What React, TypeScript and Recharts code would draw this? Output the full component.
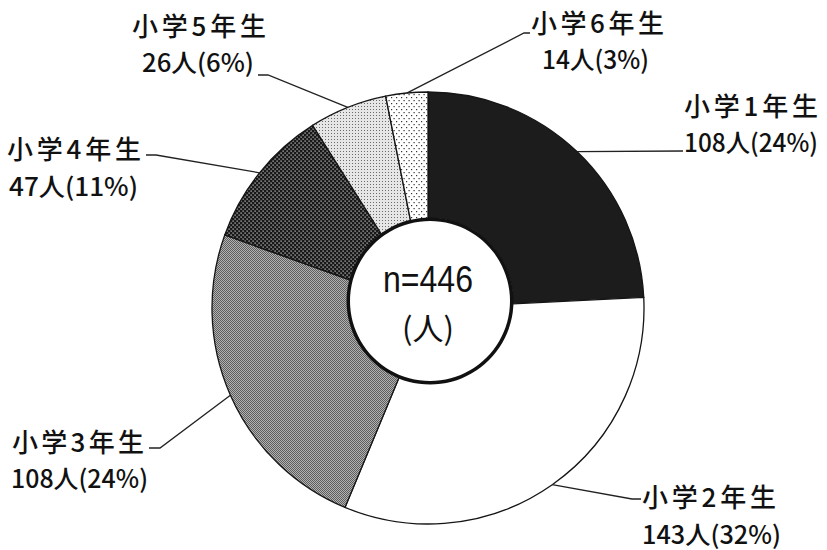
import React from 'react';
import { PieChart, Pie, Cell } from 'recharts';

// ---- data ----
const grades = ['小学1年生', '小学2年生', '小学3年生', '小学4年生', '小学5年生', '小学6年生'];
const counts = [108, 143, 108, 47, 26, 14];
const percents = [24, 32, 24, 11, 6, 3];
const total = 446;
const centerLabel = 'n=446';
const centerUnit = '(人)';

// ---- styles / layout (kept separate from data) ----
const fills = ['#1c1c1c', '#ffffff', 'url(#pGray)', 'url(#pDark)', 'url(#pLight)', 'url(#pSparse)'];

type Layout = { path: number[][]; l1: number[]; l2: number[]; w1: number; w2: number };
const labelLayout: Layout[] = [
  { path: [[683, 151]], l1: [684, 104], l2: [684, 141], w1: 134, w2: 134 },
  { path: [[632, 499], [641, 499]], l1: [642, 495], l2: [642, 533], w1: 134, w2: 139 },
  { path: [[160, 448], [149, 448]], l1: [12, 440], l2: [11, 477], w1: 132, w2: 137 },
  { path: [[156, 155], [146, 155]], l1: [7, 147], l2: [9, 185], w1: 134, w2: 129 },
  { path: [[268, 75], [258, 75]], l1: [132, 24], l2: [142, 61], w1: 134, w2: 112 },
  { path: [[524, 33], [530, 33]], l1: [531, 21], l2: [542, 58], w1: 133, w2: 107 },
];

const data = grades.map((g, i) => ({ name: g, value: counts[i], pct: percents[i] }));
const hole = [{ name: 'total', value: total }];

const JP = "'Noto Sans CJK JP', 'Noto Sans', sans-serif";
const RAD = Math.PI / 180;
const INK = '#111111';

const renderLabel = (props: any) => {
  const { cx, cy, midAngle, outerRadius, index } = props;
  const sx = cx + outerRadius * Math.cos(-midAngle * RAD);
  const sy = cy + outerRadius * Math.sin(-midAngle * RAD);
  const lay = labelLayout[index];
  const pts = [[sx, sy], ...lay.path].map((p) => p.join(',')).join(' ');
  return (
    <g key={`lbl-${index}`}>
      <polyline points={pts} fill="none" stroke="#222" strokeWidth={1.3} />
      <text
        x={lay.l1[0]}
        y={lay.l1[1]}
        dominantBaseline="central"
        textLength={lay.w1}
        lengthAdjust="spacing"
        fontFamily={JP}
        fontSize={26}
        fontWeight={500}
        fill={INK}
      >
        {grades[index]}
      </text>
      <text
        x={lay.l2[0]}
        y={lay.l2[1]}
        dominantBaseline="central"
        textLength={lay.w2}
        lengthAdjust="spacingAndGlyphs"
        fontFamily={JP}
        fontSize={25}
        fontWeight={500}
        fill={INK}
      >
        {`${counts[index]}人(${percents[index]}%)`}
      </text>
    </g>
  );
};

const renderCenter = (props: any) => {
  const { cx, cy } = props;
  return (
    <g key="center">
      <text
        x={cx - 2}
        y={cy - 9}
        textAnchor="middle"
        textLength={90}
        lengthAdjust="spacingAndGlyphs"
        fontFamily="'Liberation Sans', Arial, sans-serif"
        fontSize={36}
        fill={INK}
      >
        {centerLabel}
      </text>
      <text
        x={cx - 2}
        y={cy + 25}
        textAnchor="middle"
        dominantBaseline="central"
        fontFamily={JP}
        fontSize={31}
        fill={INK}
      >
        {centerUnit}
      </text>
    </g>
  );
};

export default function App() {
  return (
    <div style={{ position: 'absolute', left: 0, top: 0, width: 827, height: 550, background: '#fff' }}>
      <PieChart width={827} height={550} margin={{ top: 0, right: 0, bottom: 0, left: 0 }}>
        <defs>
          <pattern id="pGray" width="2" height="2" patternUnits="userSpaceOnUse">
            <rect width="2" height="2" fill="#b2b2b2" />
            <rect x="0" y="0" width="1" height="1" fill="#5e5e5e" />
            <rect x="1" y="1" width="1" height="1" fill="#5e5e5e" />
          </pattern>
          <pattern id="pDark" width="4" height="4" patternUnits="userSpaceOnUse">
            <rect width="4" height="4" fill="#181818" />
            <rect x="0.5" y="0.5" width="1.2" height="1.2" fill="#d8d8d8" />
            <rect x="2.5" y="2.5" width="1.2" height="1.2" fill="#d8d8d8" />
          </pattern>
          <pattern id="pLight" width="3" height="3" patternUnits="userSpaceOnUse">
            <rect width="3" height="3" fill="#e6e6e6" />
            <rect x="1" y="1" width="1" height="1" fill="#6a6a6a" />
          </pattern>
          <pattern id="pSparse" width="5" height="6" patternUnits="userSpaceOnUse">
            <rect width="5" height="6" fill="#ffffff" />
            <rect x="1" y="1" width="1.2" height="1.2" fill="#333" />
            <rect x="3.5" y="4" width="1.2" height="1.2" fill="#333" />
          </pattern>
        </defs>
        <Pie
          data={data}
          dataKey="value"
          nameKey="name"
          cx={428}
          cy={308}
          innerRadius={72}
          outerRadius={216}
          startAngle={90}
          endAngle={-270}
          stroke="#151515"
          strokeWidth={1.3}
          label={renderLabel}
          labelLine={false}
          isAnimationActive={false}
        >
          {data.map((d, i) => (
            <Cell key={d.name} fill={fills[i]} />
          ))}
        </Pie>
        <Pie
          data={hole}
          dataKey="value"
          cx={430}
          cy={301}
          innerRadius={0}
          outerRadius={83}
          fill="#ffffff"
          stroke="none"
          isAnimationActive={false}
        />
        <Pie
          data={hole}
          dataKey="value"
          cx={430}
          cy={301}
          innerRadius={80}
          outerRadius={83.5}
          fill="#111111"
          stroke="none"
          label={renderCenter}
          labelLine={false}
          isAnimationActive={false}
        />
      </PieChart>
    </div>
  );
}
